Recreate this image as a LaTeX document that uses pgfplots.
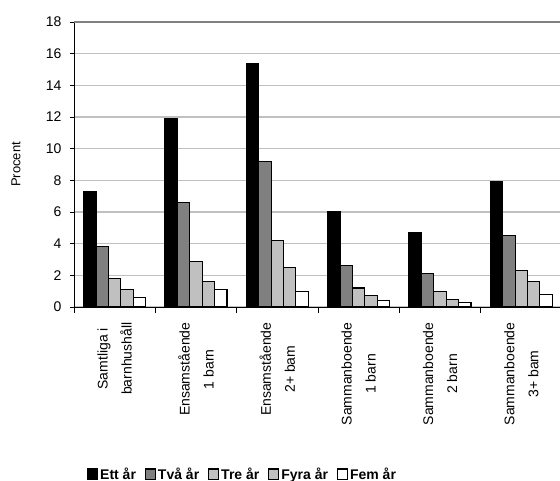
\documentclass[border=0pt]{standalone}
\usepackage{fontspec}
\setmainfont{Liberation Sans}
\usepackage{pgfplots}
\pgfplotsset{compat=1.18}
\definecolor{gA}{RGB}{128,128,128}
\definecolor{gB}{RGB}{192,192,192}
\begin{document}
\begin{tikzpicture}[x=1pt,y=1pt]
\useasboundingbox (-74,-174) rectangle (486,307);
\begin{axis}[
  at={(0,0)}, anchor=south west,
  scale only axis, width=488pt, height=285pt,
  ymin=0, ymax=18, ytick={0,2,...,18},
  xmin=-0.5, xmax=5.5,
  axis x line*=bottom, axis y line*=left,
  axis line style={black, line width=0.8pt},
  ymajorgrids, grid style={gB, line width=1.4pt},
  extra y ticks={18}, extra y tick labels={},
  extra y tick style={grid style={gA, line width=1.2pt}},
  ybar=0pt, bar width=12.4pt,
  xtick={0,1,2,3,4,5},
  xticklabels={{Samtliga i\\barnhushåll},{Ensamstående\\1 barn},{Ensamstående\\2+ bam},{Sammanboende\\1 barn},{Sammanboende\\2 barn},{Sammanboende\\3+ bam}},
  major x tick style={draw=none},
  minor xtick={-0.5,0.5,...,5.5},
  minor x tick style={black, line width=0.6pt},
  minor tick length=6pt,
  tick align=outside,
  major tick length=4pt,
  ytick style={black, line width=0.6pt},
  xticklabel style={rotate=90, anchor=east, align=center, font=\fontsize{14}{24}\selectfont},
  xticklabel shift=8pt,
  yticklabel style={font=\fontsize{14}{16}\selectfont, xshift=-5pt},
  /pgf/number format/assume math mode=true,
  ylabel={Procent}, ylabel style={font=\fontsize{13}{15}\selectfont, at={(axis description cs:-0.1025,0.5)}, anchor=south},
  legend style={at={(13pt,-167pt)}, anchor=west, draw=none, inner sep=0pt, font=\bfseries\fontsize{14}{16}\selectfont, legend columns=5, /tikz/every even column/.append style={column sep=7pt}},
  legend image code/.code={\draw[#1, line width=1pt] (0pt,-5pt) rectangle (10pt,5pt);},
  every axis plot/.append style={draw=black, line width=1.1pt},
]
\addplot[fill=black] coordinates {(0,7.3) (1,11.9) (2,15.4) (3,6.0) (4,4.7) (5,7.9)};
\addplot[fill=gA] coordinates {(0,3.8) (1,6.6) (2,9.2) (3,2.6) (4,2.1) (5,4.5)};
\addplot[fill=gB] coordinates {(0,1.8) (1,2.9) (2,4.2) (3,1.2) (4,1.0) (5,2.3)};
\addplot[fill=gB] coordinates {(0,1.1) (1,1.6) (2,2.5) (3,0.7) (4,0.5) (5,1.6)};
\addplot[fill=white] coordinates {(0,0.6) (1,1.1) (2,1.0) (3,0.4) (4,0.3) (5,0.8)};
\legend{Ett år, Två år, Tre år, Fyra år, Fem år}
\end{axis}
\end{tikzpicture}
\end{document}
